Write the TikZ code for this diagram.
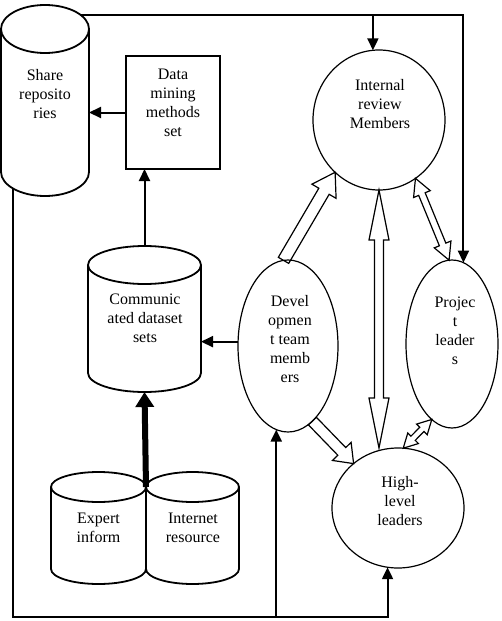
\documentclass[tikz,border=0pt]{standalone}
\usepackage{fontspec}
\setmainfont{Liberation Serif}
\usetikzlibrary{arrows.meta,calc,shapes.geometric}

\tikzset{
  lbl/.style={align=center, font=\fontsize{16}{19}\selectfont, inner sep=0pt},
  shp/.style={draw, line width=1.8pt},
  ell/.style={ellipse, draw, line width=1.2pt, inner sep=0pt, outer sep=0pt},
  boxnode/.style={rectangle, draw, line width=2pt, inner sep=0pt, outer sep=0pt},
  cylbox/.style={rectangle, inner sep=0pt, outer sep=0pt},
  capnode/.style={ellipse, draw, line width=1.8pt, inner sep=0pt, outer sep=0pt},
  conn/.style={line width=2pt, -{Triangle[length=12pt,width=11pt]}},
  thickconn/.style={line width=6pt, -{Triangle[length=15pt,width=18pt]}},
  hollow/.style={draw, line width=1.2pt, line join=miter},
}

% name, cx, ytop, ybot, rx, ry
\newcommand\mycyl[6]{%
  \node[cylbox, minimum width={2*#5}, minimum height={#4-#3}] (#1) at (#2,{(#3+#4)/2}) {};
  \node[capnode, minimum width={2*#5}, minimum height={2*#6}] (#1cap) at (#1.north) {};
  \draw[shp] (#1.north west) -- (#1.south west)
     arc[start angle=180, end angle=0, x radius=#5, y radius=#6] -- (#1.north east);
  \coordinate (#1bot) at ($(#1.south)+(0,#6)$);
}

% from, to, shaft half width, head half width, head length
\newcommand\harrow[5]{%
  \coordinate (ha) at (#1); \coordinate (hb) at (#2);
  \coordinate (hh) at ($(hb)!#5!(ha)$);
  \draw[hollow] ($(ha)!#3!90:(hb)$) -- ($(hh)!#3!90:(hb)$) -- ($(hh)!#4!90:(hb)$)
    -- (hb) -- ($(hh)!#4!-90:(hb)$) -- ($(hh)!#3!-90:(hb)$) -- ($(ha)!#3!-90:(hb)$) -- cycle;
}
\newcommand\hdarrow[5]{%
  \coordinate (ha) at (#1); \coordinate (hb) at (#2);
  \coordinate (hh) at ($(hb)!#5!(ha)$);
  \coordinate (hg) at ($(ha)!#5!(hb)$);
  \draw[hollow] (ha) -- ($(hg)!#4!90:(hb)$) -- ($(hg)!#3!90:(hb)$) -- ($(hh)!#3!90:(hb)$)
    -- ($(hh)!#4!90:(hb)$) -- (hb) -- ($(hh)!#4!-90:(hb)$) -- ($(hh)!#3!-90:(hb)$)
    -- ($(hg)!#3!-90:(hb)$) -- ($(hg)!#4!-90:(hb)$) -- cycle;
}

\begin{document}
\begin{tikzpicture}[x=1pt,y=-1pt]
\useasboundingbox (0,0) rectangle (502,621);

% cylinders
\mycyl{share}{45}{29}{172}{44}{24}
\mycyl{comm}{144.5}{265}{373}{56.5}{19}
\mycyl{expert}{98.5}{487}{569}{47.5}{15}
\mycyl{inet}{192.5}{487}{569}{46.5}{15}

% box
\node[boxnode, minimum width=94, minimum height=113] (data) at (173,112.5) {};

% ellipses
\node[ell, minimum width=132, minimum height=140] (irm) at (379,120) {};
\node[ell, minimum width=100, minimum height=172] (dev) at (288,346) {};
\node[ell, minimum width=92, minimum height=168] (pl) at (452,344) {};
\node[ell, minimum width=132, minimum height=120] (hll) at (398,508) {};

% texts
\node[lbl] (sharetxt) at (45,94.5) {Share\\reposito\\ries};
\node[lbl] (datatxt) at (173,103) {Data\\mining\\methods\\set};
\node[lbl] (irmtxt) at (380,104.5) {Internal\\review\\Members};
\node[lbl] (commtxt) at (145,318) {Communic\\ated dataset\\sets};
\node[lbl] (devtxt) at (290,339) {Devel\\opmen\\t team\\memb\\ers};
\node[lbl] (pltxt) at (455,331) {Projec\\t\\leader\\s};
\node[lbl] (hlltxt) at (400,501) {High-\\level\\leaders};
\node[lbl] (exptxt) at (98.5,528) {Expert\\inform};
\node[lbl] (inttxt) at (193,528) {Internet\\resource};

% plain connectors
\draw[conn] (data.west) -- (data.west -| share.east);
\draw[conn] (commcap.north) -- (commcap.north |- data.south);
\draw[conn] (dev.175) -- (dev.175 -| comm.east);
\draw[thickconn] (expertcap.east) -- (commbot);

% top loop
\draw[conn] (sharecap.21) -| (pl.82);
\draw[conn] (sharecap.21 -| irm.95) -- (irm.95);

% bottom loop
\coordinate (loopstart) at ($(share.south)+(-32,16.5)$);
\coordinate (bl) at (loopstart |- 0,617);
\draw[conn] (loopstart) -- (bl) -| (hll.260);
\draw[conn] (bl -| dev.262) -- (dev.262);

% hollow arrows
\harrow{dev.93}{irm.230}{6pt}{14pt}{22pt}
\hdarrow{irm.south}{hll.north -| irm.south}{4.5pt}{10pt}{50pt}
\hdarrow{irm.302}{pl.92}{3.5pt}{9pt}{17pt}
\harrow{dev.288}{hll.135}{5.5pt}{13pt}{17pt}
\hdarrow{pl.255}{hll.85}{3pt}{7.5pt}{14pt}
\end{tikzpicture}
\end{document}
